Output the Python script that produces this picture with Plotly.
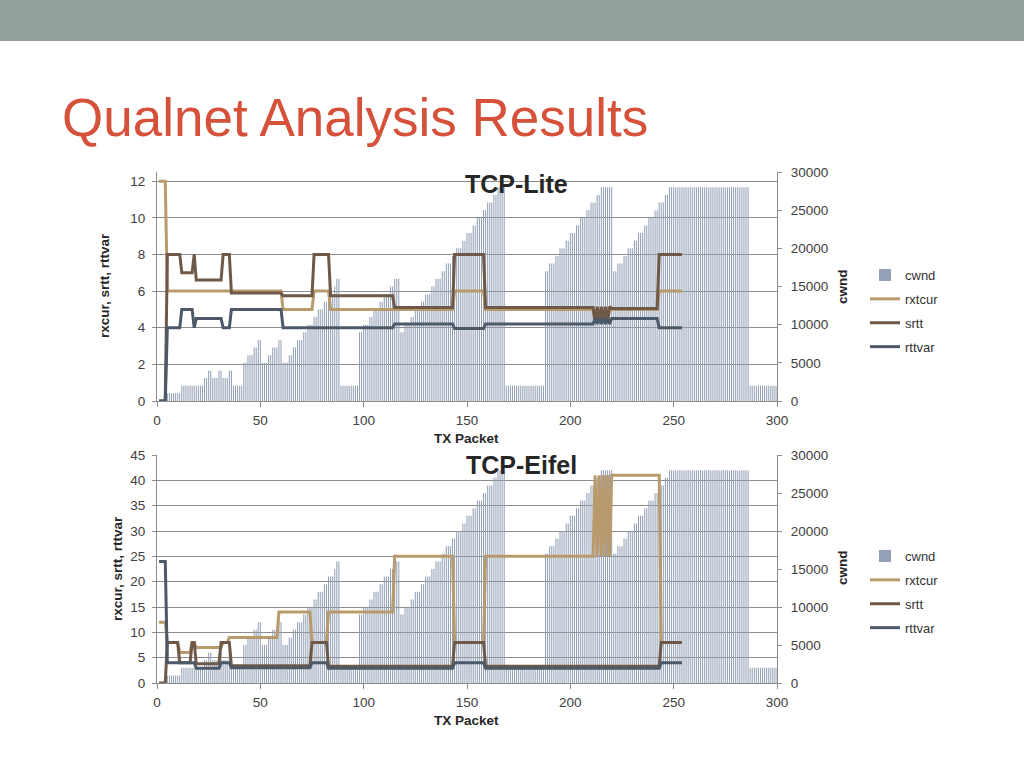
import numpy as np
import plotly.graph_objects as go

# cwnd per TX packet (1..300), stored as run lengths: level, number of packets
cwnd_level = [0, 1000, 2000, 3000, 4000, 3000, 4000, 3000, 4000, 2000,
              5000, 6000, 7000, 8000,
              5000, 6000, 7000, 8000,
              5000, 6000, 7000, 8000, 9000, 10000, 11000, 12000, 13000, 14000, 15000, 16000,
              2000,
              9000, 10000, 11000, 12000, 13000, 14000, 15000, 16000,
              9000, 10000, 11000, 12000, 13000, 14000, 15000, 16000, 17000, 18000,
              19000, 20000, 21000, 22000, 23000, 24000, 25000, 26000, 27000, 28000,
              2000,
              17000, 18000, 19000, 20000, 21000, 22000, 23000, 24000, 25000, 26000, 27000, 28000,
              17000, 18000, 19000, 20000, 21000, 22000, 23000, 24000, 25000, 26000, 27000, 28000,
              2000]
cwnd_run = [4, 7, 11, 2, 2, 3, 2, 3, 2, 5,
            2, 3, 2, 2,
            3, 2, 3, 2,
            3, 2, 2, 3, 2, 3, 2, 3, 2, 3, 1, 2,
            9,
            2, 3, 2, 3, 2, 3, 2, 3,
            2, 3, 2, 3, 2, 3, 2, 3, 2, 3,
            2, 3, 2, 3, 2, 3, 2, 3, 2, 4,
            19,
            2, 3, 2, 3, 2, 3, 2, 3, 2, 3, 2, 6,
            2, 3, 2, 3, 2, 3, 2, 3, 2, 3, 2, 39,
            14]

# TCP-Lite timers (packets 1..254), run lengths
lite_rxtcur = [12, 6, 5, 6, 5, 6, 5, 4.3, 5.1, 4.3, 5.1, 4.3, 5.1, 4.3, 5.1, 5, 6]
lite_rxtcur_run = [4, 56, 15, 8, 60, 15, 53, 1, 1, 1, 1, 1, 1, 1, 1, 23, 12]
lite_srtt = [0, 8, 7, 8, 6.6, 8, 5.9, 5.75, 8, 5.75, 5.1, 8, 5.1,
             4.3, 5.15, 4.3, 5.15, 4.3, 5.15, 4.3, 5.15, 5.05, 8]
lite_srtt_run = [4, 7, 6, 1, 13, 4, 25, 15, 8, 31, 29, 15, 53,
                 1, 1, 1, 1, 1, 1, 1, 1, 23, 12]
lite_rttvar = [0, 4, 5, 4, 4.5, 4, 5, 4, 4.2, 3.96, 4.2,
               4.5, 4.2, 4.5, 4.2, 4.5, 4.2, 4.5, 4.2, 4.5, 4]
lite_rttvar_run = [4, 7, 6, 1, 13, 4, 25, 54, 29, 15, 53,
                   1, 1, 1, 1, 1, 1, 1, 1, 23, 12]

# TCP-Eifel timers (packets 1..254), run lengths
eifel_rxtcur = [12, 8, 6, 8, 7, 8, 9, 14, 8, 14, 25, 8, 25,
                41, 25, 41, 25, 41, 25, 41, 25, 41, 8]
eifel_rxtcur_run = [4, 6, 6, 2, 13, 3, 24, 16, 8, 32, 29, 15, 53,
                    1, 1, 1, 1, 1, 1, 1, 1, 24, 11]
eifel_srtt = [0, 8, 4, 8, 3.8, 8, 3.4, 8, 3.3, 8, 3.3, 8]
eifel_srtt_run = [4, 6, 6, 2, 12, 5, 39, 8, 61, 15, 85, 11]
eifel_rttvar = [24, 4, 2.9, 4, 3.0, 4, 2.9, 4, 2.9, 4]
eifel_rttvar_run = [4, 14, 12, 5, 39, 8, 61, 15, 85, 11]

packets = np.arange(1, 301)
timer_packets = np.arange(1, 255)
cwnd = np.repeat(cwnd_level, cwnd_run)

C_BAR = "rgba(146,159,180,0.99)"
C_RX = "#B89A6C"
C_SRTT = "#6E5949"
C_VAR = "#4B5969"
FONT = "Liberation Sans"

fig = go.Figure()


def add_chart(xa, ybar, yline, legend, timers):
    fig.add_trace(go.Bar(x=packets, y=cwnd, name="cwnd", marker=dict(color=C_BAR, line_width=0),
                         xaxis=xa, yaxis=ybar, legend=legend, legendgroup=legend + "a"))
    for (name, vals, runs), col, g in zip(timers, [C_RX, C_SRTT, C_VAR], "bcd"):
        fig.add_trace(go.Scatter(x=timer_packets, y=np.repeat(vals, runs), name=name, mode="lines",
                                 line=dict(color=col, width=3),
                                 xaxis=xa, yaxis=yline, legend=legend, legendgroup=legend + g))


add_chart("x", "y", "y2", "legend",
          [("rxtcur", lite_rxtcur, lite_rxtcur_run),
           ("srtt", lite_srtt, lite_srtt_run),
           ("rttvar", lite_rttvar, lite_rttvar_run)])
add_chart("x2", "y3", "y4", "legend2",
          [("rxtcur", eifel_rxtcur, eifel_rxtcur_run),
           ("srtt", eifel_srtt, eifel_srtt_run),
           ("rttvar", eifel_rttvar, eifel_rttvar_run)])

W, H = 1024, 768
x_dom = [157 / W, 777 / W]
top_dom = [1 - 401 / H, 1 - 172 / H]
bot_dom = [1 - 683 / H, 1 - 455 / H]

tick_font = dict(family=FONT, size=13.5, color="#404040")
axis_common = dict(showline=True, linecolor="#8C8C8C", linewidth=1, ticks="outside",
                   tickcolor="#8C8C8C", ticklen=4, tickfont=tick_font, automargin=False,
                   zeroline=False, fixedrange=True)

xcommon = dict(axis_common, range=[0, 300], dtick=50, showgrid=False, ticklen=5,
               ticklabelstandoff=2)
rcommon = dict(axis_common, side="right", range=[0, 30000], dtick=5000, showgrid=False,
               tickformat="d", ticklabelstandoff=6)
lcommon = dict(axis_common, side="left", showgrid=True, gridcolor="#8C8C8C", gridwidth=1,
               ticklabelstandoff=4)

legend_common = dict(x=865 / W, xanchor="left", yanchor="top", traceorder="grouped",
                     tracegroupgap=4, font=dict(family=FONT, size=13, color="#333333"),
                     bgcolor="rgba(0,0,0,0)")

fig.update_layout(
    width=W, height=H, margin=dict(l=0, r=0, t=0, b=0),
    paper_bgcolor="white", plot_bgcolor="white",
    bargap=0.5,
    xaxis=dict(xcommon, domain=x_dom, anchor="y"),
    yaxis=dict(rcommon, domain=top_dom, anchor="x"),
    yaxis2=dict(lcommon, overlaying="y", anchor="x", range=[0, 12.5], dtick=2),
    xaxis2=dict(xcommon, domain=x_dom, anchor="y3"),
    yaxis3=dict(rcommon, domain=bot_dom, anchor="x2"),
    yaxis4=dict(lcommon, overlaying="y3", anchor="x2", range=[0, 45], dtick=5),
    legend=dict(legend_common, y=1 - 260 / H),
    legend2=dict(legend_common, y=1 - 541 / H),
    showlegend=True,
)

# slide banner
fig.add_shape(type="rect", xref="paper", yref="paper", x0=0, x1=1, y0=1 - 41 / H, y1=1,
              fillcolor="#939F99", line_width=0, layer="below")


def px_ann(text, x, y, size, bold=False, angle=0, color="#262626", xanchor="center"):
    fig.add_annotation(text=f"<b>{text}</b>" if bold else text, x=x / W, y=1 - y / H,
                       xref="paper", yref="paper", showarrow=False, textangle=angle,
                       xanchor=xanchor, yanchor="middle",
                       font=dict(family=FONT, size=size, color=color))


px_ann("Qualnet Analysis Results", 60, 117, 53, color="#D6513A", xanchor="left")
px_ann("TCP-Lite", 516, 184, 25, bold=True)
px_ann("TCP-Eifel", 521, 465, 25, bold=True)
px_ann("rxcur, srtt, rttvar", 105, 286, 13.5, bold=True, angle=-90)
px_ann("rxcur, srtt, rttvar", 117, 569, 13.5, bold=True, angle=-90)
px_ann("cwnd", 842, 287, 13.5, bold=True, angle=-90)
px_ann("cwnd", 842, 568, 13.5, bold=True, angle=-90)
px_ann("TX Packet", 466, 438, 13.5, bold=True)
px_ann("TX Packet", 466, 720, 13.5, bold=True)

# the slide fills the window edge to edge
fig.write_html("out.html", config={"displayModeBar": False},
               post_script="document.body.style.margin='0';document.body.style.overflow='hidden';")
